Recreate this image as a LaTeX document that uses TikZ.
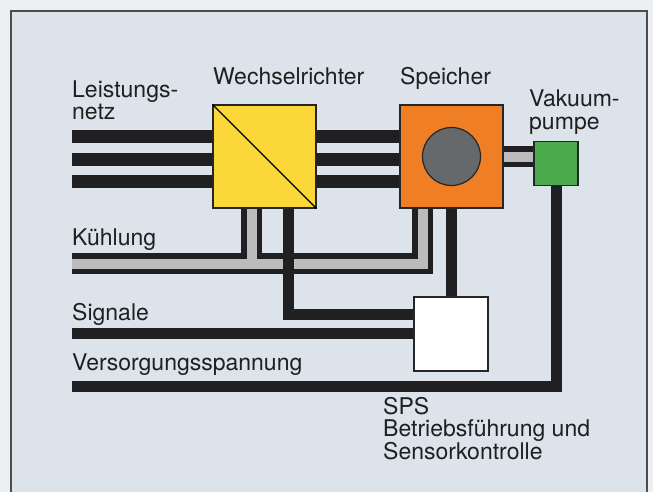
\documentclass[tikz,border=0pt]{standalone}
\usepackage{fontspec}
\setmainfont{TeX Gyre Heros}
\usetikzlibrary{positioning}
\definecolor{paper}{RGB}{236,238,241}
\definecolor{panel}{RGB}{220,227,235}
\definecolor{cablecol}{RGB}{32,32,34}
\definecolor{pipegray}{RGB}{188,188,188}
\definecolor{inverter}{RGB}{250,216,58}
\definecolor{storage}{RGB}{240,126,36}
\definecolor{rotor}{RGB}{102,105,108}
\definecolor{pumpgreen}{RGB}{74,170,76}

\begin{document}
\begin{tikzpicture}[x=1pt,y=-1pt,
  every node/.style={font=\fontsize{23}{22.5}\selectfont, inner sep=0pt, text=black!88},
  lbl/.style={anchor=base west, align=left},
  unit/.style={draw=black!85, line width=1.2pt, minimum size=#1},
  cable/.style={line width=#1, draw=cablecol},
  pipe/.style={line width=21pt, draw=cablecol},
  pipecore/.style={line width=10pt, draw=pipegray}]
\useasboundingbox (0,0) rectangle (653,492);
\fill[paper] (0,0) rectangle (653,492);
\draw[fill=panel, draw=black!70, line width=1.2pt] (11,11) rectangle (647,505);

\node[unit=103, fill=inverter] (inv) at (264.5,156.5) {};
\draw[line width=1.2pt] (inv.north west) -- (inv.south east);
\node[unit=103, fill=storage] (spei) at (451.5,156.5) {};
\node[circle, draw=black!85, line width=1.2pt, fill=rotor, minimum size=58] (rotor) at (spei) {};
\node[unit=44, fill=pumpgreen] (pump) at (556,163.5) {};
\node[unit=74, fill=white] (sps) at (451,334) {};

\node[lbl] (l-netz) at (72,120) {Leistungs-\\netz};
\node[lbl] (l-inv) at (213,85) {Wechselrichter};
\node[lbl] (l-spei) at (400,85) {Speicher};
\node[lbl] (l-pump) at (529,129) {Vakuum-\\pumpe};
\node[lbl] (l-kuehl) at (72,245) {Kühlung};
\node[lbl] (l-sig) at (72,320) {Signale};
\node[lbl] (l-vers) at (72,370) {Versorgungsspannung};
\node[lbl] (l-sps) at (383,459) {SPS\\Betriebsführung und\\Sensorkontrolle};

\coordinate (netz1) at (72,136.5);
\coordinate (netz2) at (72,159);
\coordinate (netz3) at (72,181.5);
\coordinate (kuehl) at (72,263.5);
\coordinate (sig) at (72,333.5);
\coordinate (vers) at (72,386.5);
\coordinate (kin) at ([xshift=-13pt]inv.south);
\coordinate (kout) at ([xshift=-29pt]spei.south);
\coordinate (ksig) at ([xshift=24pt]inv.south);

\foreach \n in {1,2,3} {
  \draw[cable=13pt] (netz\n) -- (netz\n -| inv.west);
  \draw[cable=13pt] (inv.east |- netz\n) -- (spei.west |- netz\n);
}
\draw[pipe] (spei.east) -- (pump.west |- spei.east);
\draw[pipecore] (spei.east) -- (pump.west |- spei.east);

\draw[pipe] (kuehl) -- (kuehl -| kout) -- (kout);
\draw[pipe] (kin) -- (kin |- kuehl);
\draw[pipecore] (kuehl) -- (kuehl -| kout) -- (kout);
\draw[pipecore] (kin) -- (kin |- kuehl);

\draw[cable=11pt] (ksig) |- ([yshift=20pt]sps.west);
\draw[cable=11pt] (spei.south) -- (spei.south |- sps.north);
\draw[cable=11pt] (sig) -- (sig -| sps.west);
\draw[cable=11pt] (vers) -| (pump.south);
\end{tikzpicture}
\end{document}
